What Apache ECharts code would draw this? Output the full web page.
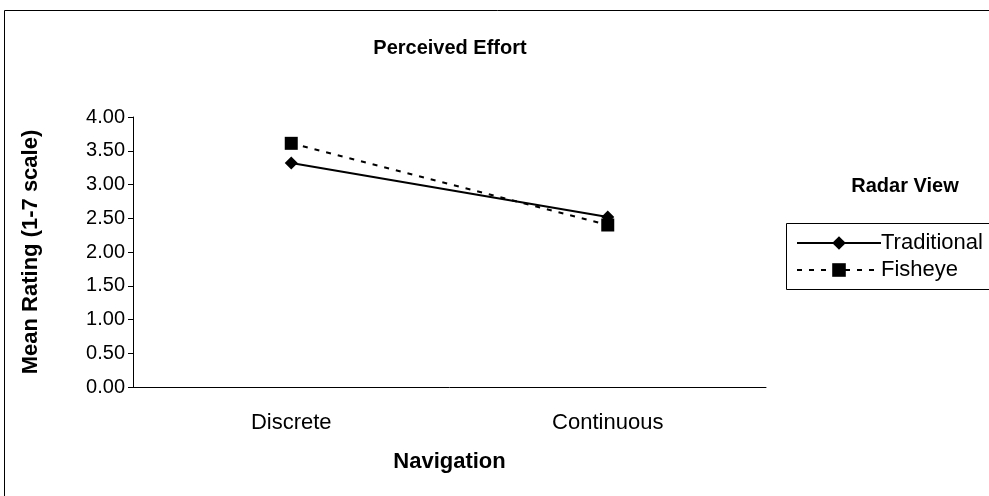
<!DOCTYPE html>
<html>
<head>
<meta charset="utf-8">
<script src="https://cdn.jsdelivr.net/npm/echarts@6/dist/echarts.min.js"></script>
<style>
  html, body { margin: 0; padding: 0; background: #fff; }
  #chart { width: 989px; height: 496px; }
</style>
</head>
<body>
<div id="chart"></div>
<script>
// Navigation modes on the x axis
const categories = ['Discrete', 'Continuous'];
// Mean perceived-effort ratings per radar view
const traditional = [3.32, 2.52];
const fisheye = [3.61, 2.40];
const seriesNames = ['Traditional', 'Fisheye'];

const FONT = '"Liberation Sans", Arial, sans-serif';

const chart = echarts.init(document.getElementById('chart'));
chart.setOption({
  animation: false,
  backgroundColor: '#fff',
  textStyle: { fontFamily: FONT, color: '#000' },
  title: {
    text: 'Perceived Effort',
    left: 445,
    top: 33,
    textAlign: 'center',
    textStyle: { fontFamily: FONT, fontSize: 20, fontWeight: 'bold', color: '#000' }
  },
  grid: { left: 133, right: 223, top: 117, bottom: 109 },
  xAxis: {
    type: 'category',
    data: categories,
    name: 'Navigation',
    nameLocation: 'middle',
    nameGap: 64,
    nameTextStyle: { fontFamily: FONT, fontSize: 22, fontWeight: 'bold', color: '#000' },
    axisLine: { lineStyle: { color: '#000', width: 1 } },
    axisTick: { length: 6, lineStyle: { color: '#000' } },
    axisLabel: { fontFamily: FONT, fontSize: 22, color: '#000', margin: 25 }
  },
  yAxis: {
    type: 'value',
    min: 0,
    max: 4,
    interval: 0.5,
    name: 'Mean Rating (1-7 scale)',
    nameLocation: 'middle',
    nameGap: 91,
    nameRotate: 90,
    nameTextStyle: { fontFamily: FONT, fontSize: 22, fontWeight: 'bold', color: '#000' },
    axisLine: { show: true, lineStyle: { color: '#000', width: 1 } },
    axisTick: { show: true, length: 5, lineStyle: { color: '#000' } },
    splitLine: { show: false },
    axisLabel: {
      fontFamily: FONT, fontSize: 20, color: '#000', margin: 8,
      formatter: v => v.toFixed(2)
    }
  },
  legend: {
    data: seriesNames,
    orient: 'vertical',
    left: 791,
    top: 227,
    itemWidth: 84,
    itemHeight: 17,
    itemGap: 5,
    textStyle: { fontFamily: FONT, fontSize: 22, color: '#000', padding: [0, 0, 0, -5] },
    itemStyle: { color: 'inherit' },
    lineStyle: { color: 'inherit' }
  },
  graphic: [
    {
      type: 'rect',
      shape: { x: 4.5, y: 10.5, width: 1000, height: 500 },
      style: { fill: 'none', stroke: '#000', lineWidth: 1 },
      silent: true
    },
    {
      type: 'rect',
      shape: { x: 786.5, y: 223.5, width: 220, height: 66 },
      style: { fill: 'none', stroke: '#000', lineWidth: 1 },
      silent: true
    },
    {
      type: 'text',
      x: 905,
      y: 186,
      style: {
        text: 'Radar View',
        font: 'bold 20px "Liberation Sans", Arial, sans-serif',
        fill: '#000',
        align: 'center',
        verticalAlign: 'middle'
      }
    }
  ],
  series: [
    {
      name: seriesNames[0],
      type: 'line',
      data: traditional,
      symbol: 'diamond',
      symbolSize: 13,
      itemStyle: { color: '#000' },
      lineStyle: { color: '#000', width: 2, type: 'solid' },
      z: 3
    },
    {
      name: seriesNames[1],
      type: 'line',
      data: fisheye,
      symbol: 'rect',
      symbolSize: 13,
      itemStyle: { color: '#000' },
      lineStyle: { color: '#000', width: 2, type: [5, 7] },
      z: 2
    }
  ]
});
</script>
</body>
</html>
